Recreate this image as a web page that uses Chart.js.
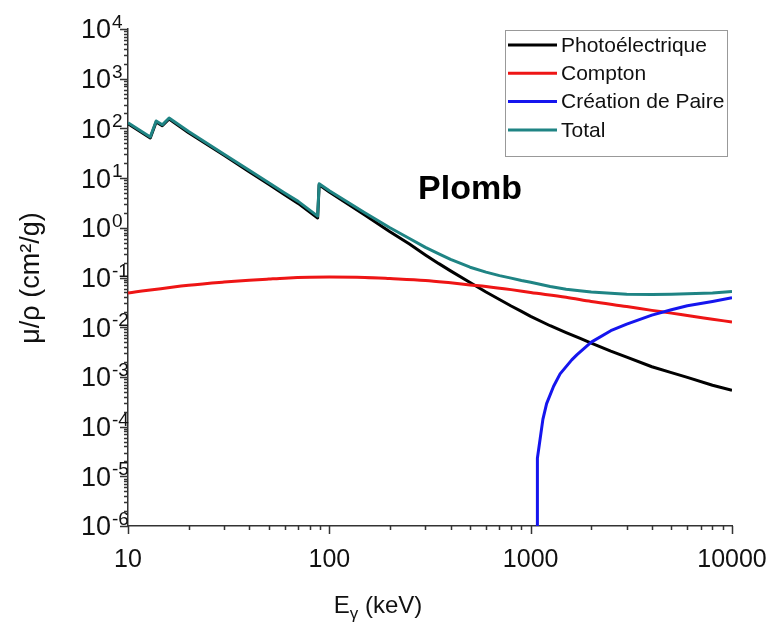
<!DOCTYPE html>
<html>
<head>
<meta charset="utf-8">
<script src="https://cdn.jsdelivr.net/npm/chart.js@4.4.1/dist/chart.umd.min.js"></script>
<style>
    html, body { margin: 0; padding: 0; background: #ffffff; }
    #graphique { display: block; }
</style>
</head>
<body>
<canvas id="graphique" width="769" height="631"></canvas>
<script>
// Energies en keV, coefficients en cm2/g (plomb)
var energiesTotal = [10, 12.9, 13.8, 14.8, 16, 20, 30, 40, 50, 60, 70, 87.5, 89, 100, 150, 200, 250, 300, 350, 400, 500, 600, 700, 800, 900, 1000, 1250, 1500, 1750, 2000, 2500, 3000, 4000, 5000, 6000, 8000, 10000];
var valeursTotal = [130, 67, 141, 118, 162, 86.4, 30.3, 14.4, 8.04, 5.02, 3.4, 1.72, 7.7, 5.55, 2.01, 1.0, 0.61, 0.403, 0.30, 0.232, 0.161, 0.128, 0.109, 0.097, 0.087, 0.080, 0.066, 0.058, 0.054, 0.051, 0.048, 0.046, 0.0455, 0.046, 0.047, 0.049, 0.052];
var valeursPhoto = [124, 64, 135, 113, 155, 82, 28.9, 13.5, 7.5, 4.6, 3.1, 1.58, 7.3, 5.25, 1.80, 0.83, 0.47, 0.285, 0.19, 0.136, 0.079, 0.051, 0.036, 0.0267, 0.0208, 0.0165, 0.0107, 0.0078, 0.0060, 0.0048, 0.0033, 0.0025, 0.0016, 0.00122, 0.00098, 0.00068, 0.00054];

var energiesCompton = [10, 20, 30, 40, 50, 60, 80, 100, 150, 200, 300, 400, 500, 600, 800, 1000, 1500, 2000, 3000, 4000, 5000, 6000, 8000, 10000];
var valeursCompton = [0.049, 0.070, 0.081, 0.088, 0.093, 0.097, 0.101, 0.102, 0.100, 0.095, 0.087, 0.078, 0.071, 0.066, 0.057, 0.050, 0.040, 0.033, 0.026, 0.0218, 0.0192, 0.0172, 0.0145, 0.0127];

var energiesPaire = [1080, 1080, 1150, 1200, 1300, 1400, 1600, 1700, 2000, 2500, 3000, 4000, 5000, 6000, 8000, 10000];
var valeursPaire = [1e-6, 2.3e-5, 1.4e-4, 2.9e-4, 6.5e-4, 1.15e-3, 2.2e-3, 2.8e-3, 5.0e-3, 8.5e-3, 0.0115, 0.0175, 0.0225, 0.027, 0.033, 0.039];

var decadesX = [10, 100, 1000, 10000];
var exposantsY = [-6, -5, -4, -3, -2, -1, 0, 1, 2, 3, 4];

var legendes = ["Photoélectrique", "Compton", "Création de Paire", "Total"];
var couleurs = ["#000000", "#ee1515", "#1515ee", "#1f8484"];

function points(xs, ys) {
    return xs.map(function (x, i) { return { x: x, y: ys[i] }; });
}

// graduations 1..9 x 10^n
function graduations(expMin, expMax) {
    var t = [];
    for (var e = expMin; e < expMax; e++) {
        for (var m = 1; m <= 9; m++) {
            t.push({ value: Number(m + "e" + e), major: m === 1 });
        }
    }
    t.push({ value: Number("1e" + expMax), major: true });
    return t;
}

var gradX = graduations(1, 4);
var gradY = graduations(-6, 4);

var dessinAxes = {
    id: "dessinAxes",
    afterDraw: function (chart) {
        var ctx = chart.ctx;
        var x = chart.scales.x;
        var y = chart.scales.y;
        var area = chart.chartArea;
        ctx.save();

        // petites et grandes graduations
        ctx.strokeStyle = "#333333";
        ctx.lineWidth = 1.5;
        ctx.beginPath();
        gradX.forEach(function (t) {
            var px = Math.round(x.getPixelForValue(t.value)) + 0.5;
            ctx.moveTo(px, area.bottom);
            ctx.lineTo(px, area.bottom + (t.major ? 8 : 4));
        });
        gradY.forEach(function (t) {
            var py = Math.round(y.getPixelForValue(t.value)) + 0.5;
            ctx.moveTo(area.left, py);
            ctx.lineTo(area.left - (t.major ? 8 : 4), py);
        });
        ctx.stroke();

        // etiquettes 10^n
        ctx.fillStyle = "#111111";
        exposantsY.forEach(function (e) {
            var py = y.getPixelForValue(Number("1e" + e));
            ctx.font = "27px Arial, 'Liberation Sans', sans-serif";
            ctx.textAlign = "right";
            ctx.textBaseline = "middle";
            ctx.fillText("10", 111, py + 2);
            ctx.font = "19px Arial, 'Liberation Sans', sans-serif";
            ctx.textAlign = "left";
            ctx.textBaseline = "alphabetic";
            ctx.fillText(String(e), 112, py - 1);
        });

        // titre axe X : E_gamma (keV)
        var xt = 378, yt = 613;
        ctx.textBaseline = "alphabetic";
        ctx.textAlign = "left";
        ctx.font = "24px Arial, 'Liberation Sans', sans-serif";
        var wE = ctx.measureText("E").width;
        var wK = ctx.measureText(" (keV)").width;
        ctx.font = "17px Arial, 'Liberation Sans', sans-serif";
        var wG = ctx.measureText("γ").width;
        var x0 = xt - (wE + wG + wK) / 2;
        ctx.font = "24px Arial, 'Liberation Sans', sans-serif";
        ctx.fillText("E", x0, yt);
        ctx.font = "17px Arial, 'Liberation Sans', sans-serif";
        ctx.fillText("γ", x0 + wE, yt + 6);
        ctx.font = "24px Arial, 'Liberation Sans', sans-serif";
        ctx.fillText(" (keV)", x0 + wE + wG, yt);

        // titre axe Y
        ctx.save();
        ctx.translate(39, 278);
        ctx.rotate(-Math.PI / 2);
        ctx.textAlign = "center";
        ctx.font = "27px Arial, 'Liberation Sans', sans-serif";
        ctx.fillText("μ/ρ (cm²/g)", 0, 0);
        ctx.restore();

        // texte Plomb
        ctx.font = "bold 34px Arial, 'Liberation Sans', sans-serif";
        ctx.textAlign = "center";
        ctx.textBaseline = "middle";
        ctx.fillStyle = "#000000";
        ctx.fillText("Plomb", 470, 190);

        // legende
        ctx.strokeStyle = "#999999";
        ctx.lineWidth = 1;
        ctx.strokeRect(505.5, 30.5, 222, 126);
        ctx.font = "21px Arial, 'Liberation Sans', sans-serif";
        ctx.textAlign = "left";
        ctx.textBaseline = "middle";
        chart.data.datasets.forEach(function (ds, i) {
            var ly = 45 + i * 28.3;
            ctx.strokeStyle = ds.borderColor;
            ctx.lineWidth = 3;
            ctx.beginPath();
            ctx.moveTo(508, ly);
            ctx.lineTo(557, ly);
            ctx.stroke();
            ctx.fillStyle = "#111111";
            ctx.fillText(ds.label, 561, ly + 1);
        });

        ctx.restore();
    }
};

var ctx = document.getElementById("graphique").getContext("2d");
var graphique = new Chart(ctx, {
    type: "line",
    data: {
        datasets: [
            { label: legendes[0], data: points(energiesTotal, valeursPhoto), borderColor: couleurs[0], order: 3 },
            { label: legendes[1], data: points(energiesCompton, valeursCompton), borderColor: couleurs[1], order: 2, cubicInterpolationMode: "monotone" },
            { label: legendes[2], data: points(energiesPaire, valeursPaire), borderColor: couleurs[2], order: 1 },
            { label: legendes[3], data: points(energiesTotal, valeursTotal), borderColor: couleurs[3], order: 0 },
        ],
    },
    options: {
        responsive: false,
        animation: false,
        devicePixelRatio: 1,
        layout: { padding: { top: 29, right: 0, left: 0, bottom: 0 } },
        elements: {
            line: { borderWidth: 3, tension: 0, fill: false, borderJoinStyle: "round" },
            point: { radius: 0, hoverRadius: 0 },
        },
        plugins: {
            legend: { display: false },
            tooltip: { enabled: false },
        },
        scales: {
            x: {
                type: "logarithmic",
                min: 10,
                max: 10000,
                afterBuildTicks: function (scale) {
                    scale.ticks = decadesX.map(function (v) { return { value: v }; });
                },
                afterFit: function (scale) {
                    scale.height = 105;
                    scale.paddingLeft = 0;
                    scale.paddingRight = 37;
                },
                grid: { display: false },
                border: { display: true, color: "#333333", width: 1.5 },
                ticks: {
                    autoSkip: false,
                    maxRotation: 0,
                    padding: 11,
                    color: "#111111",
                    font: { family: "Arial, 'Liberation Sans', sans-serif", size: 25 },
                    callback: function (v) { return String(v); },
                },
            },
            y: {
                type: "logarithmic",
                min: 1e-6,
                max: 1e4,
                afterFit: function (scale) { scale.width = 128; },
                grid: { display: false },
                border: { display: true, color: "#333333", width: 1.5 },
                ticks: { display: false },
            },
        },
    },
    plugins: [dessinAxes],
});
</script>
</body>
</html>
